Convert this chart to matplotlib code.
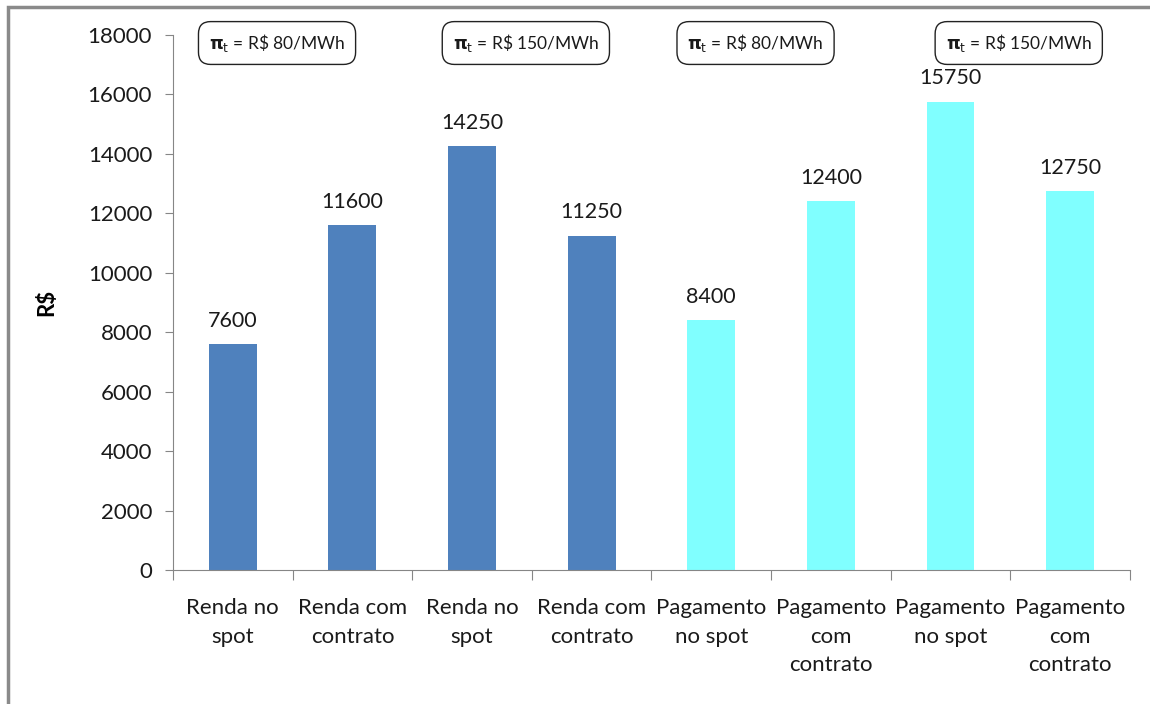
import matplotlib.pyplot as plt
from matplotlib.patches import Rectangle

# valores em R$
categorias = ['Renda no\nspot', 'Renda com\ncontrato', 'Renda no\nspot', 'Renda com\ncontrato',
              'Pagamento\nno spot', 'Pagamento\ncom\ncontrato', 'Pagamento\nno spot', 'Pagamento\ncom\ncontrato']
valores = [7600, 11600, 14250, 11250, 8400, 12400, 15750, 12750]
cores = ['#4F81BD'] * 4 + ['#80FFFF'] * 4
precos = [80, 150, 80, 150]
pos_precos = [0.37, 2.45, 4.37, 6.57]

plt.rcParams['font.family'] = ['Lato', 'DejaVu Sans']
plt.rcParams['mathtext.fontset'] = 'dejavusans'

fig = plt.figure(figsize=(11.5, 7.04), dpi=100)
ax = fig.add_axes([0.1504, 0.1903, 0.8322, 0.76])

x = list(range(len(valores)))
ax.bar(x, valores, width=0.4, color=cores, zorder=2)
for xi, v in zip(x, valores):
    ax.text(xi, v + 450, str(v), ha='center', va='bottom', fontsize=15.5, color='#1a1a1a')

ax.set_xlim(-0.5, 7.5)
ax.set_ylim(0, 18000)
ax.set_yticks(range(0, 18001, 2000))
ax.tick_params(axis='y', labelsize=16, length=6, color='#868686', labelcolor='#1a1a1a', pad=9)

ax.set_xticks([i - 0.5 for i in range(9)])
ax.set_xticklabels([])
ax.set_xticks(x, minor=True)
ax.set_xticklabels(categorias, minor=True, fontsize=16, color='#1a1a1a', linespacing=1.55)
ax.tick_params(axis='x', which='major', length=7, color='#868686')
ax.tick_params(axis='x', which='minor', length=0, pad=20)

for s in ['top', 'right']:
    ax.spines[s].set_visible(False)
for s in ['left', 'bottom']:
    ax.spines[s].set_color('#868686')

ax.set_ylabel('R$', fontsize=16, fontweight='bold', labelpad=22)

# caixas com o preco
for px, p in zip(pos_precos, precos):
    xa = (px + 0.5) / 8
    ax.text(xa, 0.985, r'$\mathbf{\pi}_\mathrm{t}$' + ' = R\\$ %d/MWh' % p, transform=ax.transAxes,
            ha='center', va='center', fontsize=12.5, color='#1a1a1a',
            bbox=dict(boxstyle='round,pad=0.6,rounding_size=0.7', fc='white', ec='#222222', lw=1))

# moldura
fig.patches.append(Rectangle((8 / 1150, -0.05), 1.2, 1 - 7 / 704 + 0.05, transform=fig.transFigure,
                             fill=False, ec='#8a8a8a', lw=2.5))

fig.savefig('out.png', dpi=100)
